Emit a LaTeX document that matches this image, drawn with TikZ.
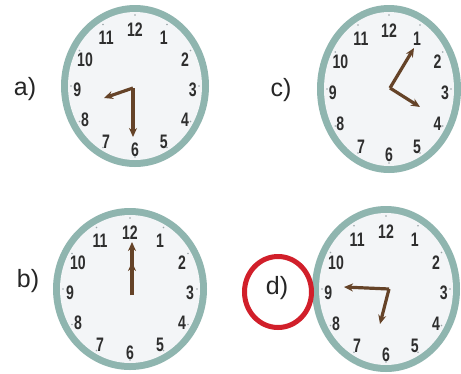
\documentclass[tikz,border=0pt]{standalone}
\usepackage{fontspec}
\setmainfont{Liberation Sans}
\usetikzlibrary{arrows.meta,shapes.geometric}
\definecolor{ringc}{HTML}{8FB5AF}
\definecolor{facec}{HTML}{F3F5F7}
\definecolor{handc}{HTML}{654328}
\definecolor{markc}{HTML}{D11F2A}
\definecolor{tickc}{HTML}{9AA4A8}
\definecolor{digitc}{HTML}{2E2E2E}
\newcommand\myclock[5]{%
  \fill[ringc] (#2,#3) ellipse [x radius=#4, y radius=#5];
  \node[ellipse, fill=facec, inner sep=0pt, minimum width={2*(#4-7)*1pt}, minimum height={2*(#5-7)*1pt}] (#1) at (#2,#3) {};
  \foreach \h in {1,...,12} {
    \node[digitnum] (#1-\h) at ({#2+0.78*#4*sin(\h*30)}, {#3+4-0.74*#5*cos(\h*30)}) {\scalebox{0.88}[1.22]{\h}};
    \fill[tickc] ({#2+(#4-10)*sin(\h*30)}, {#3-(#5-10)*cos(\h*30)}) circle (0.9);
  }
}
\tikzset{
  digitnum/.style={text=digitc, font=\fontsize{16}{16}\selectfont\bfseries, inner sep=0pt},
  lbl/.style={text=black!85, font=\fontsize{25}{25}\selectfont, inner sep=0pt},
  handline/.style={draw=handc, line width=3.2pt, -{Stealth[length=9pt,width=8pt]}},
}
\begin{document}
\begin{tikzpicture}[x=1pt,y=-1pt]
\useasboundingbox (0,0) rectangle (461,373);
\fill[white] (0,0) rectangle (461,373);
% clock a
\myclock{ca}{135}{86}{74}{81}
\coordinate (ca-c) at (133,88);
\coordinate (ca-h) at (104,98);
\coordinate (ca-m) at (133,137);
\draw[handline] (ca-c) -- (ca-h);
\draw[handline] (ca-c) -- (ca-m);
\node[lbl] (la) at (25,89) {a)};
% clock c
\myclock{cc}{389}{89}{72}{84}
\coordinate (cc-c) at (390,88);
\coordinate (cc-m) at (414,48);
\coordinate (cc-h) at (420,107);
\draw[handline] (cc-c) -- (cc-m);
\draw[handline] (cc-c) -- (cc-h);
\node[lbl] (lc) at (281,90) {c)};
% clock b
\myclock{cb}{130}{289}{77}{81}
\coordinate (cb-c) at (132,295);
\coordinate (cb-m) at (132,242);
\coordinate (cb-h) at (132,262);
\draw[handline] (cb-c) -- (cb-m);
\draw[handline] (cb-c) -- (cb-h);
\node[lbl] (lb) at (28,281) {b)};
% clock d
\myclock{cd}{386}{289}{74}{83}
\coordinate (cd-c) at (389,289);
\coordinate (cd-h) at (344,287);
\coordinate (cd-m) at (380,324);
\draw[handline] (cd-c) -- (cd-h);
\draw[handline] (cd-c) -- (cd-m);
\node[lbl] (ld) at (277,288) {d)};
\node[draw=markc, line width=5pt, ellipse, inner sep=0pt, minimum width=67pt, minimum height=71pt] (ring-d) at (278,292) {};
\end{tikzpicture}
\end{document}
